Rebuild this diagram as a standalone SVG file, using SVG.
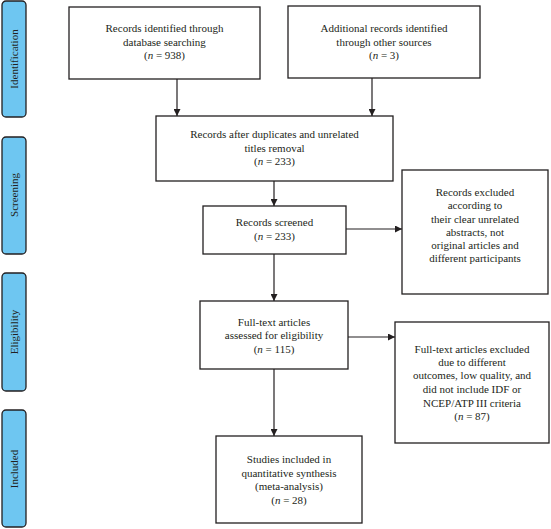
<svg xmlns="http://www.w3.org/2000/svg" width="551" height="529" viewBox="0 0 551 529">
<style>
.box{fill:#fff;stroke:#231f20;stroke-width:1.3}
.side{fill:#6ec6f1;stroke:#231f20;stroke-width:1.3}
.t{font-family:"Liberation Serif","Times New Roman",serif;font-size:11px;fill:#231f20;text-anchor:middle}
.i{font-style:italic}
.c{stroke:#231f20;stroke-width:1.2;fill:none;marker-end:url(#ah)}
</style>
<defs>
<marker id="ah" viewBox="0 0 10 10" refX="10" refY="5" markerWidth="7" markerHeight="7" markerUnits="userSpaceOnUse" orient="auto">
<path d="M0,0 L10,5 L0,10 z" fill="#231f20"/>
</marker>
</defs>
<rect width="551" height="529" fill="#fff"/>
<g id="side-identification"><rect class="side" x="2" y="1" width="24" height="116" rx="4"/><text class="t" transform="translate(18,59) rotate(-90)">Identification</text></g>
<g id="side-screening"><rect class="side" x="2" y="137" width="24" height="117" rx="4"/><text class="t" transform="translate(18,195) rotate(-90)">Screening</text></g>
<g id="side-eligibility"><rect class="side" x="2" y="273" width="24" height="118" rx="4"/><text class="t" transform="translate(18,332) rotate(-90)">Eligibility</text></g>
<g id="side-included"><rect class="side" x="2" y="410" width="24" height="117" rx="4"/><text class="t" transform="translate(18,469) rotate(-90)">Included</text></g>

<g id="connectors">
<line class="c" x1="177" y1="79" x2="177" y2="116"/>
<line class="c" x1="372" y1="78" x2="372" y2="116"/>
<line class="c" x1="274" y1="181" x2="274" y2="206"/>
<line class="c" x1="346" y1="229" x2="402" y2="229"/>
<line class="c" x1="274" y1="254" x2="274" y2="301"/>
<line class="c" x1="348" y1="337" x2="395" y2="337"/>
<line class="c" x1="274" y1="369" x2="274" y2="436"/>
</g>

<g id="n1"><rect class="box" x="69" y="7" width="191" height="72"/>
<text class="t" x="164.5" y="32">Records identified through</text>
<text class="t" x="164.5" y="46">database searching</text>
<text class="t" x="164.5" y="59">(<tspan class="i">n</tspan> = 938)</text></g>

<g id="n2"><rect class="box" x="288" y="6" width="192" height="72"/>
<text class="t" x="384" y="32">Additional records identified</text>
<text class="t" x="384" y="46">through other sources</text>
<text class="t" x="384" y="59">(<tspan class="i">n</tspan> = 3)</text></g>

<g id="n3"><rect class="box" x="156" y="116" width="237" height="65"/>
<text class="t" x="274.5" y="138">Records after duplicates and unrelated</text>
<text class="t" x="274.5" y="152">titles removal</text>
<text class="t" x="274.5" y="165">(<tspan class="i">n</tspan> = 233)</text></g>

<g id="n4"><rect class="box" x="203" y="206" width="143" height="48"/>
<text class="t" x="274.5" y="226">Records screened</text>
<text class="t" x="274.5" y="240">(<tspan class="i">n</tspan> = 233)</text></g>

<g id="n5"><rect class="box" x="402" y="170" width="146" height="124"/>
<text class="t" x="475" y="196">Records excluded</text>
<text class="t" x="475" y="209">according to</text>
<text class="t" x="475" y="223">their clear unrelated</text>
<text class="t" x="475" y="236">abstracts, not</text>
<text class="t" x="475" y="249">original articles and</text>
<text class="t" x="475" y="262">different participants</text></g>

<g id="n6"><rect class="box" x="200" y="301" width="148" height="68"/>
<text class="t" x="274" y="326">Full-text articles</text>
<text class="t" x="274" y="339">assessed for eligibility</text>
<text class="t" x="274" y="353">(<tspan class="i">n</tspan> = 115)</text></g>

<g id="n7"><rect class="box" x="395" y="322" width="154" height="121"/>
<text class="t" x="472" y="353">Full-text articles excluded</text>
<text class="t" x="472" y="366">due to different</text>
<text class="t" x="472" y="379">outcomes, low quality, and</text>
<text class="t" x="472" y="393">did not include IDF or</text>
<text class="t" x="472" y="407">NCEP/ATP III criteria</text>
<text class="t" x="472" y="420">(<tspan class="i">n</tspan> = 87)</text></g>

<g id="n8"><rect class="box" x="216" y="436" width="146" height="87"/>
<text class="t" x="289" y="463">Studies included in</text>
<text class="t" x="289" y="477">quantitative synthesis</text>
<text class="t" x="289" y="490">(meta-analysis)</text>
<text class="t" x="289" y="504">(<tspan class="i">n</tspan> = 28)</text></g>
</svg>
